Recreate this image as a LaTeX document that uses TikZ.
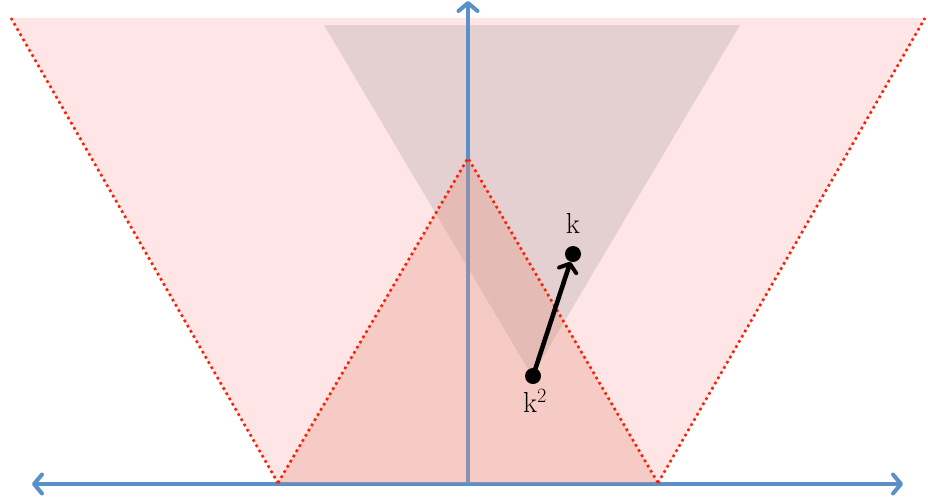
\documentclass[tikz,border=0pt]{standalone}
\usetikzlibrary{arrows.meta}
\definecolor{axisblue}{RGB}{91,143,199}
\definecolor{dotred}{RGB}{255,30,0}
\definecolor{trired}{RGB}{230,150,130}
\definecolor{shadegray}{RGB}{127,127,127}
\begin{document}
\begin{tikzpicture}[x=1pt,y=-1pt,
  axis/.style={draw=axisblue,line width=4pt,line cap=round,
    arrows={Straight Barb[length=8pt,width=19pt,line width=4pt,round]-Straight Barb[length=8pt,width=19pt,line width=4pt,round]}},
  yaxis/.style={draw=axisblue,line width=4pt,
    -{Straight Barb[length=8pt,width=19pt,line width=4pt,round]}},
  dotline/.style={draw=dotred,line width=2.6pt,dash pattern=on 2.6pt off 3.4pt},
  pt/.style={circle,fill=black,inner sep=0pt,minimum size=16pt},
  vec/.style={draw=black,line width=4.6pt,-{Straight Barb[length=7pt,width=18pt,line width=4pt,round]}},
  lab/.style={font=\fontsize{29}{33}\selectfont,inner sep=0pt,anchor=base}]
\useasboundingbox (0,0) rectangle (928,499);
% coordinates
\coordinate (TL) at (11,18);
\coordinate (TR) at (925,18);
\coordinate (BL) at (278,483);
\coordinate (BR) at (658,483);
\coordinate (A) at (468,158);
\coordinate (GL) at (324,25);
\coordinate (GR) at (740,25);
\coordinate (GA) at (532,376);
\coordinate (XL) at (32,484);
\coordinate (XR) at (903,484);
\coordinate (O) at (468,484);
\coordinate (YT) at (468,1);
% regions
\fill[red,opacity=0.1] (TL) -- (TR) -- (BR) -- (BL) -- cycle;
\fill[shadegray,opacity=0.21] (GL) -- (GR) -- (GA) -- cycle;
% axes
\draw[axis] (XL) -- (XR);
\draw[yaxis] (O) -- (YT);
% inner region
\fill[trired,opacity=0.33] (A) -- (BR) -- (BL) -- cycle;
% dotted boundaries
\draw[dotline] (TL) -- (BL);
\draw[dotline] (BL) -- (A) -- (BR);
\draw[dotline] (BR) -- (TR);
% points
\node[pt] (k2) at (533,376) {};
\node[pt] (k) at (573,254) {};
\draw[vec] (k2.center) -- (k);
\node[lab] (lk) at (573,233) {k};
\node[lab] (lk2) at (535,412) {k\textsuperscript{2}};
\end{tikzpicture}
\end{document}
